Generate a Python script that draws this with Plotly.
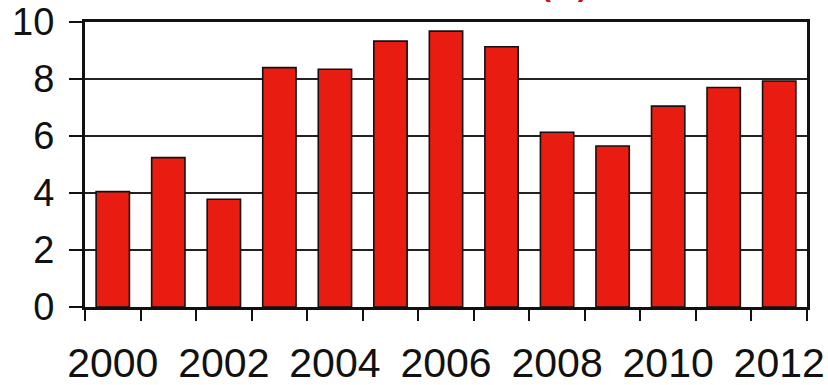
import plotly.graph_objects as go

# Annual values by year
years = [2000, 2001, 2002, 2003, 2004, 2005, 2006, 2007, 2008, 2009, 2010, 2011, 2012]
values = [4.05, 5.24, 3.78, 8.40, 8.34, 9.33, 9.68, 9.13, 6.13, 5.65, 7.05, 7.70, 7.93]
label_years = [2000, 2002, 2004, 2006, 2008, 2010, 2012]
y_ticks = [0, 2, 4, 6, 8, 10]

FONT = "Liberation Sans, Arial, sans-serif"

fig = go.Figure(
    go.Bar(
        x=years,
        y=values,
        width=0.6,
        marker=dict(color="#e81c10", line=dict(color="#111111", width=1.6)),
    )
)

fig.update_layout(
    width=828,
    height=385,
    margin=dict(l=85, r=21, t=22, b=78),
    paper_bgcolor="white",
    plot_bgcolor="white",
    showlegend=False,
    font=dict(family=FONT, color="#111111"),
)

fig.update_xaxes(
    automargin=False,
    range=[years[0] - 0.5, years[-1] + 0.5],
    tickmode="array",
    tickvals=label_years,
    ticktext=[str(y) for y in label_years],
    ticks="",
    ticklabelstandoff=18,
    tickfont=dict(size=41, family=FONT, color="#111111"),
    showgrid=False,
    zeroline=False,
    showline=True,
    linecolor="#111111",
    linewidth=2.5,
    mirror=True,
    minor=dict(
        tickmode="array",
        tickvals=[y - 0.5 for y in years] + [years[-1] + 0.5],
        ticks="outside",
        ticklen=11,
        tickwidth=2,
        tickcolor="#111111",
        showgrid=False,
    ),
)

fig.update_yaxes(
    automargin=False,
    range=[0, 10],
    tickmode="array",
    tickvals=y_ticks,
    ticks="outside",
    ticklen=13,
    tickwidth=2,
    tickcolor="#111111",
    ticklabelstandoff=7,
    tickfont=dict(size=38, family=FONT, color="#111111"),
    showgrid=True,
    gridcolor="#222222",
    gridwidth=1.6,
    zeroline=False,
    showline=True,
    linecolor="#111111",
    linewidth=3,
    mirror=True,
)

# Chart title, mostly above the visible area
fig.add_annotation(
    text="<b>(%)</b>",
    xref="paper",
    yref="paper",
    x=(564 - 85) / 722,
    y=1.0,
    yshift=18,
    xanchor="center",
    yanchor="bottom",
    showarrow=False,
    font=dict(size=30, family=FONT, color="#cc1111"),
)

fig.write_html("out.html")
